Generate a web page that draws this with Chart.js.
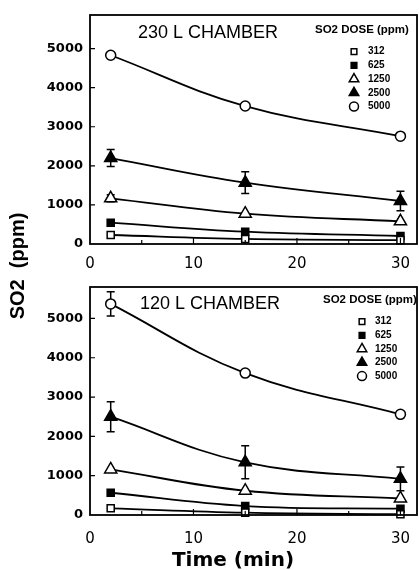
<!DOCTYPE html>
<html><head><meta charset="utf-8">
<script src="https://cdn.jsdelivr.net/npm/chart.js@4/dist/chart.umd.min.js"></script>
<style>
html,body{margin:0;padding:0;background:#fff;}
body{width:419px;height:570px;position:relative;overflow:hidden;}
#w1{position:absolute;left:0;top:0;width:419px;height:280px;}
#w2{position:absolute;left:0;top:280px;width:419px;height:290px;}
#ytitle{position:absolute;left:-82px;top:254px;width:200px;height:24px;line-height:24px;text-align:center;
  transform:rotate(-90deg);font:bold 20px "Liberation Sans",Arial,sans-serif;white-space:pre;color:#000;}
#xtitle{position:absolute;left:133px;top:547px;width:200px;height:24px;line-height:24px;text-align:center;
  font:bold 20px "DejaVu Sans",sans-serif;color:#000;}
</style></head>
<body>
<div id="w1"><canvas id="c1"></canvas></div>
<div id="w2"><canvas id="c2"></canvas></div>
<div id="ytitle">SO2  (ppm)</div>
<div id="xtitle">Time (min)</div>
<script>
// ---- data ----
const times = [2, 15, 30];
const doseLabels = ['312', '625', '1250', '2500', '5000'];
const xTicks = [0, 10, 20, 30];
const yTicks = [0, 1000, 2000, 3000, 4000, 5000];

// 230 L chamber
const c230_312 = [230, 130, 100];
const c230_625 = [545, 315, 205];
const c230_1250 = [1170, 775, 580];
const c230_1250_err = [90, 0, 0];
const c230_2500 = [2200, 1570, 1100];
const c230_2500_err = [220, 280, 250];
const c230_5000 = [4830, 3530, 2760];

// 120 L chamber
const c120_312 = [170, 60, 20];
const c120_625 = [566, 228, 160];
const c120_1250 = [1160, 617, 420];
const c120_2500 = [2500, 1340, 920];
const c120_2500_err = [380, 420, 300];
const c120_5000 = [5370, 3610, 2560];
const c120_5000_err = [310, 0, 0];

// ---- styles ----
const markerStyles = [
  {pointStyle: 'rect', fill: '#fff', r: 5, lr: 4},
  {pointStyle: 'rect', fill: '#000', r: 5, lr: 4},
  {pointStyle: 'triangle', fill: '#fff', r: 7, lr: 5.5},
  {pointStyle: 'triangle', fill: '#000', r: 7, lr: 5.5},
  {pointStyle: 'circle', fill: '#fff', r: 5, lr: 4.5}
];

function makeDatasets(series, errs) {
  return series.map((vals, i) => {
    const st = markerStyles[i];
    return {
      label: doseLabels[i],
      data: vals.map((v, k) => ({x: times[k], y: v})),
      errors: errs[i] || null,
      borderColor: '#000',
      borderWidth: 1.8,
      tension: 0.4,
      pointStyle: st.pointStyle,
      pointRadius: st.r,
      pointBackgroundColor: st.fill,
      pointBorderColor: '#000',
      pointBorderWidth: 1.5,
      legendRadius: st.lr,
      fill: false,
      clip: false
    };
  });
}

function drawSymbol(ctx, style, r, x, y) {
  if (Chart.helpers && Chart.helpers.drawPoint) {
    Chart.helpers.drawPoint(ctx, {pointStyle: style, radius: r, borderWidth: 1.5, rotation: 0}, x, y);
    return;
  }
  ctx.beginPath();
  if (style === 'circle') ctx.arc(x, y, r, 0, Math.PI * 2);
  else if (style === 'rect') { const s = Math.SQRT1_2 * r; ctx.rect(x - s, y - s, 2 * s, 2 * s); }
  else { ctx.moveTo(x, y - r); ctx.lineTo(x + r * 0.866, y + r * 0.5); ctx.lineTo(x - r * 0.866, y + r * 0.5); ctx.closePath(); }
  ctx.fill(); ctx.stroke();
}

const panelPlugin = {
  id: 'panel',
  beforeDatasetsDraw(chart) {
    const {ctx} = chart; const x = chart.scales.x, y = chart.scales.y;
    ctx.save(); ctx.strokeStyle = '#000'; ctx.lineWidth = 1.5;
    chart.data.datasets.forEach(d => {
      if (!d.errors) return;
      d.data.forEach((p, i) => {
        const e = d.errors[i]; if (!e) return;
        const px = x.getPixelForValue(p.x);
        const y1 = y.getPixelForValue(p.y + e), y2 = y.getPixelForValue(p.y - e);
        ctx.beginPath();
        ctx.moveTo(px, y1); ctx.lineTo(px, y2);
        ctx.moveTo(px - 4, y1); ctx.lineTo(px + 4, y1);
        ctx.moveTo(px - 4, y2); ctx.lineTo(px + 4, y2);
        ctx.stroke();
      });
    });
    ctx.restore();
  },
  afterDraw(chart, args, opts) {
    const {ctx, chartArea: a} = chart; const x = chart.scales.x, y = chart.scales.y;
    ctx.save();
    ctx.strokeStyle = '#000'; ctx.fillStyle = '#000';
    // frame
    ctx.lineWidth = 1.8;
    ctx.strokeRect(a.left, a.top, a.right - a.left, a.bottom - a.top);
    // inward ticks
    ctx.lineWidth = 1.2;
    ctx.beginPath();
    for (let v = 5; v <= 30; v += 5) {
      const px = x.getPixelForValue(v);
      const len = (v % 10 === 0) ? 6 : 4;
      ctx.moveTo(px, a.bottom); ctx.lineTo(px, a.bottom - len);
    }
    yTicks.forEach(v => {
      if (v === 0) return;
      const py = y.getPixelForValue(v);
      ctx.moveTo(a.left, py); ctx.lineTo(a.left + 5, py);
    });
    ctx.stroke();
    // panel title
    ctx.textBaseline = 'middle'; ctx.textAlign = 'left';
    ctx.font = '18px "Liberation Sans", Arial, sans-serif';
    ctx.fillText(opts.title, opts.titleX, opts.titleY);
    // legend
    ctx.font = 'bold 11.5px "Liberation Sans", Arial, sans-serif';
    ctx.fillText('SO2 DOSE (ppm)', opts.legX, opts.legY);
    chart.data.datasets.forEach((d, i) => {
      const yy = opts.itemY + i * opts.itemGap;
      ctx.fillStyle = d.pointBackgroundColor; ctx.strokeStyle = '#000'; ctx.lineWidth = 1.5;
      drawSymbol(ctx, d.pointStyle, d.legendRadius, opts.symX, yy);
      ctx.fillStyle = '#000';
      ctx.font = 'bold 10px "Liberation Sans", Arial, sans-serif';
      ctx.textBaseline = 'middle'; ctx.textAlign = 'left';
      ctx.fillText(d.label, opts.textX, yy);
    });
    ctx.restore();
  }
};

function makeChart(id, datasets, yMax, padTop, xAxisH, xPad, panelOpts) {
  return new Chart(document.getElementById(id), {
    type: 'line',
    data: {datasets},
    options: {
      responsive: true, maintainAspectRatio: false, animation: false,
      devicePixelRatio: 1,
      layout: {autoPadding: false, padding: {top: padTop, right: 2, left: 0, bottom: 0}},
      plugins: {legend: {display: false}, tooltip: {enabled: false}, title: {display: false}, panel: panelOpts},
      scales: {
        x: {
          type: 'linear', min: 0, max: 31.6,
          afterBuildTicks: s => { s.ticks = xTicks.map(v => ({value: v})); },
          afterFit: s => { s.height = xAxisH; s.paddingLeft = 0; s.paddingRight = 0; },
          grid: {display: false, drawTicks: false},
          border: {display: false},
          ticks: {color: '#000', padding: xPad, maxRotation: 0, autoSkip: false,
                  callback: v => String(v),
                  font: {family: '"DejaVu Sans", sans-serif', size: 15}}
        },
        y: {
          type: 'linear', min: 0, max: yMax,
          afterBuildTicks: s => { s.ticks = yTicks.map(v => ({value: v})); },
          afterFit: s => { s.width = 90; s.paddingTop = 0; s.paddingBottom = 0; },
          grid: {display: false, drawTicks: false},
          border: {display: false},
          ticks: {color: '#000', padding: 7, autoSkip: false,
                  callback: v => String(v),
                  font: {family: '"DejaVu Sans", sans-serif', size: 13, weight: 'bold'}}
        }
      }
    },
    plugins: [panelPlugin]
  });
}

makeChart('c1',
  makeDatasets([c230_312, c230_625, c230_1250, c230_2500, c230_5000], [null, null, c230_1250_err, c230_2500_err, null]),
  5860, 15, 36, 11,
  {title: '230 L CHAMBER', titleX: 138, titleY: 33, legX: 315, legY: 30, symX: 354, textX: 368, itemY: 51.7, itemGap: 13.7});

makeChart('c2',
  makeDatasets([c120_312, c120_625, c120_1250, c120_2500, c120_5000], [null, null, null, c120_2500_err, c120_5000_err]),
  5800, 7, 55, 15,
  {title: '120 L CHAMBER', titleX: 140, titleY: 24, legX: 323, legY: 20, symX: 362, textX: 375, itemY: 41.7, itemGap: 13.6});
</script>
</body></html>
